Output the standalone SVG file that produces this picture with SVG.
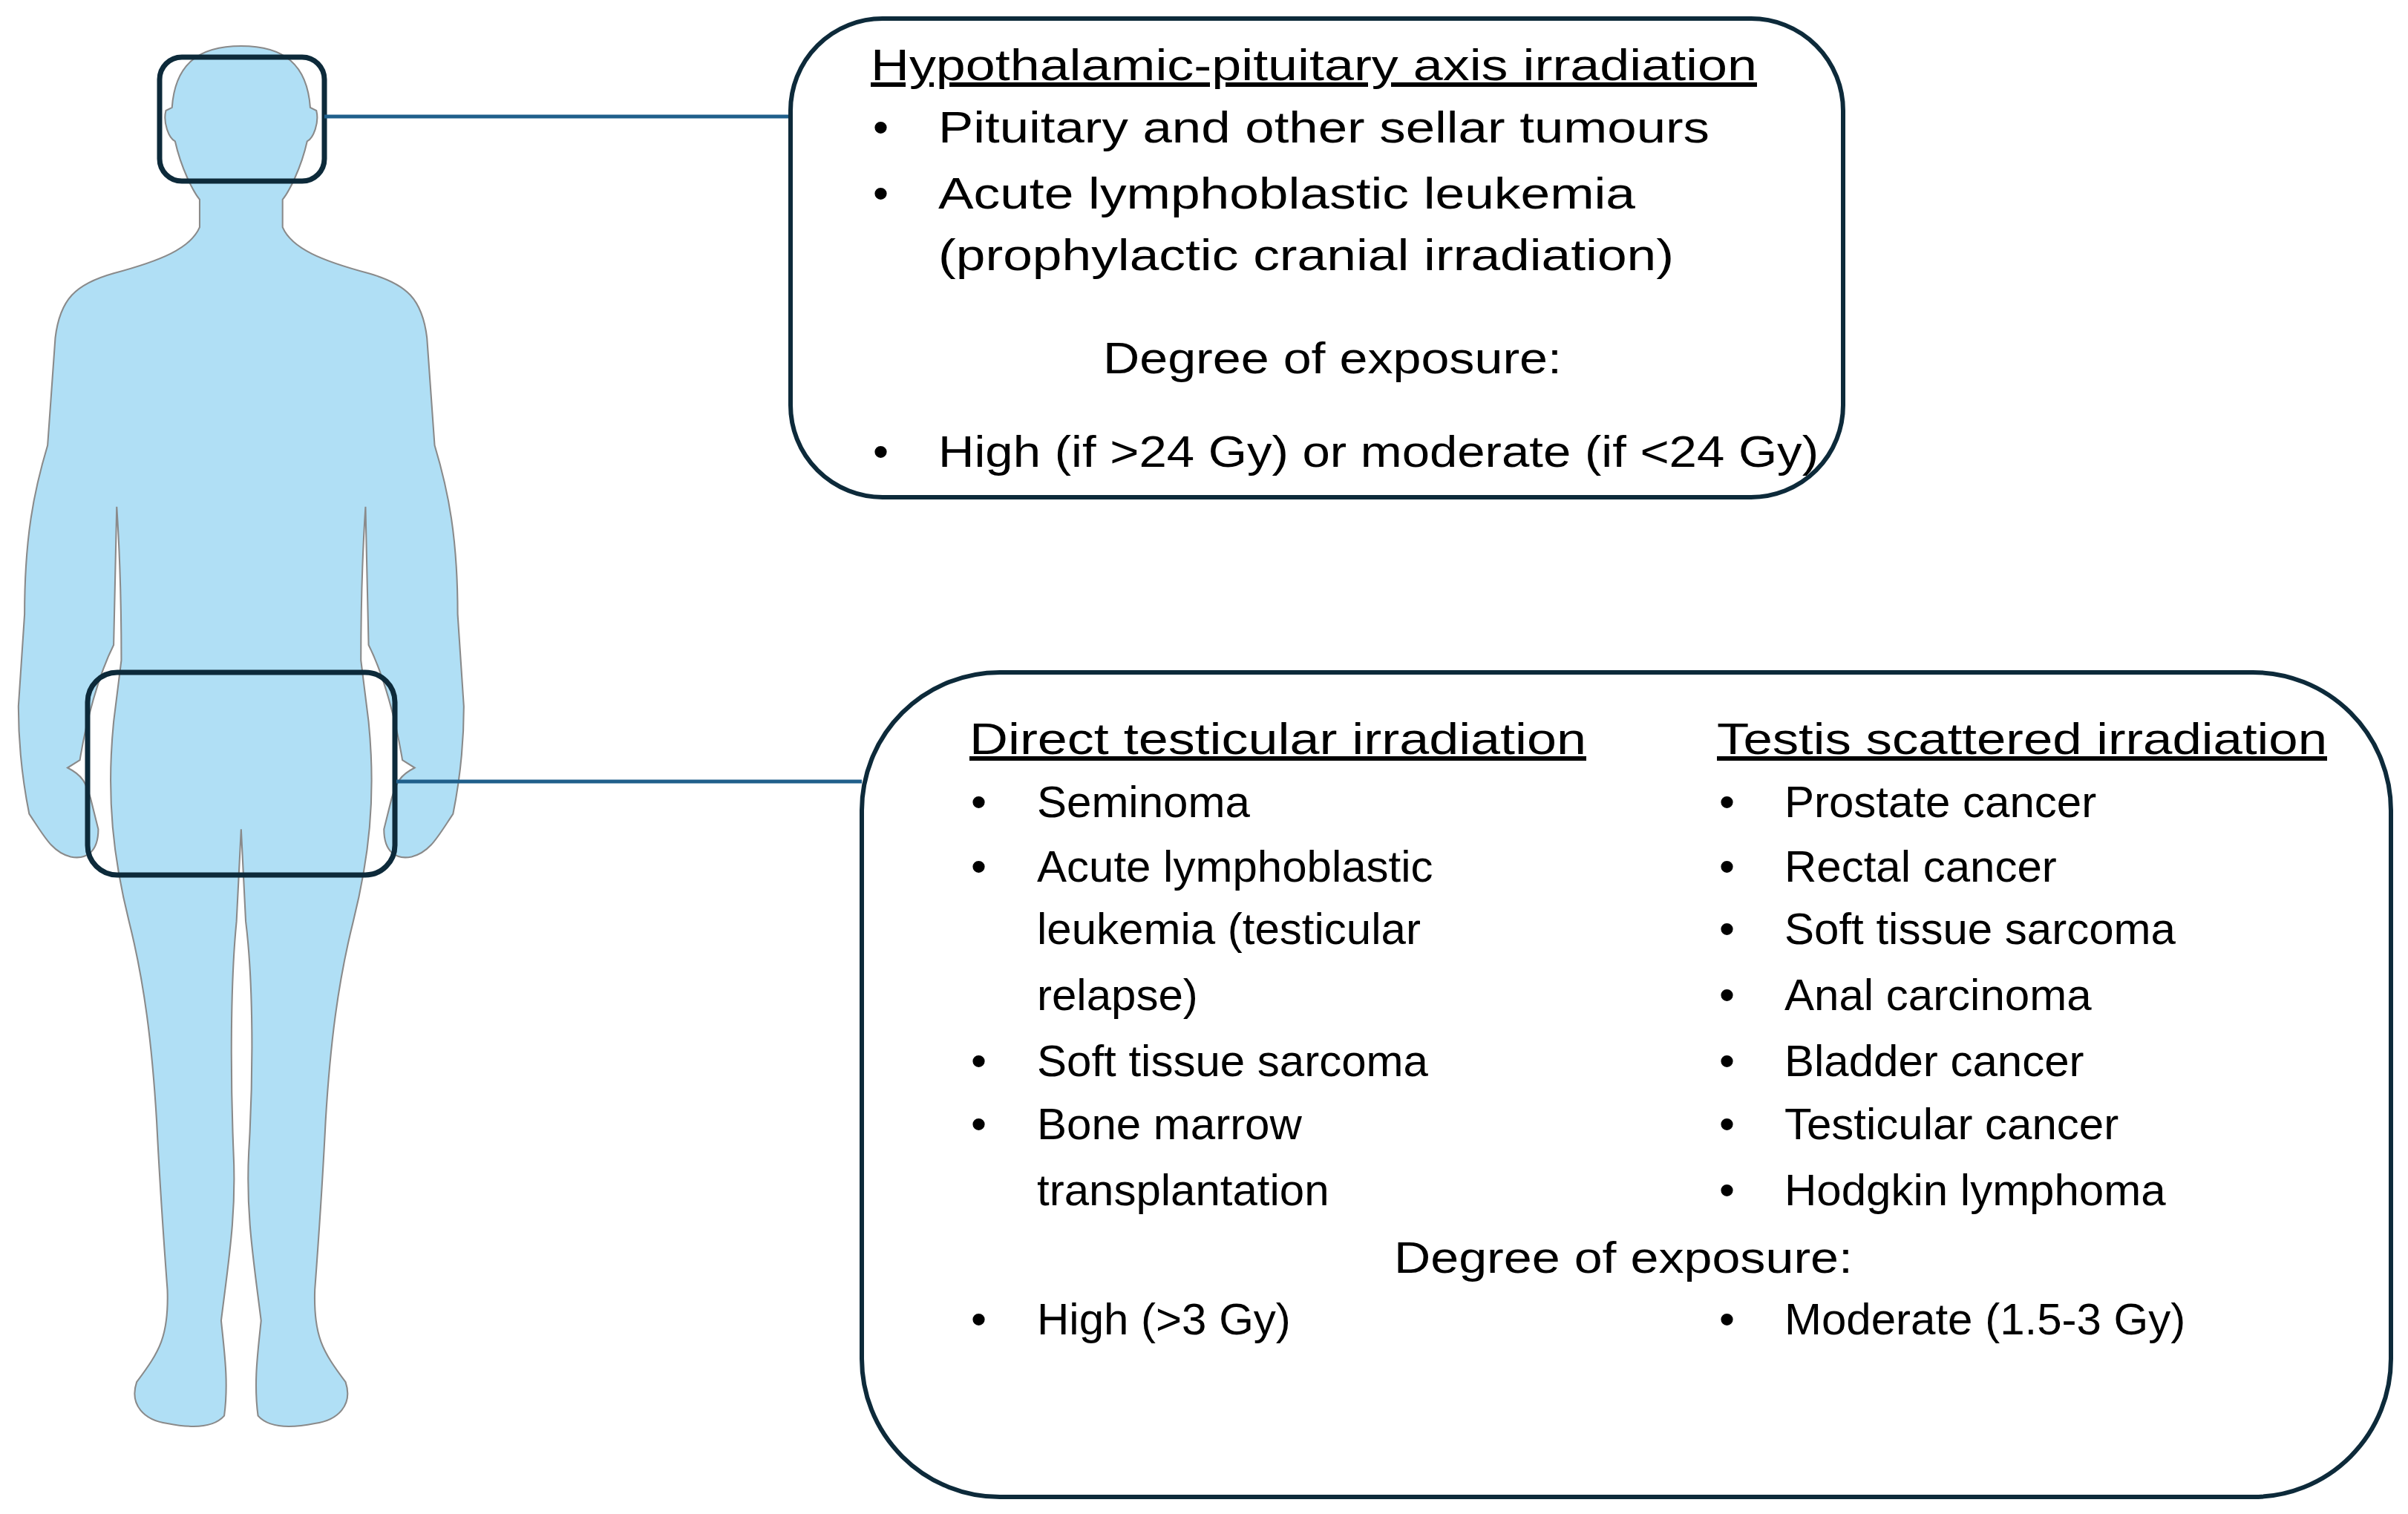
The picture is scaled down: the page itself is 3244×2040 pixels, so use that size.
<svg xmlns="http://www.w3.org/2000/svg" width="3244" height="2040" viewBox="0 0 3244 2040">
<style>
text{font-family:"Liberation Sans",Arial,sans-serif;font-size:60px;fill:#000}
.u{text-decoration:underline}
.box{fill:#fff;stroke:#0d2a3a;stroke-width:6}
.hl{fill:none;stroke:#0d2a3a;stroke-width:7}
.con{stroke:#1f5f8b;stroke-width:5;fill:none}
</style>
<rect width="3244" height="2040" fill="#fff"/>
<g id="body">
<path transform="scale(2.069)" fill="#b0dff5" stroke="#8a8a8a" stroke-width="1" d="M157,30 C185,30 200,42 202,70 L206,72 C208,80 204,90 200,92 C196,110 188,125 184,130 L184,148 C190,162 210,170 240,178 C265,185 275,195 278,220 L283,290 C292,320 298,350 298,400 L302,460 C302,490 298,515 295,530 C285,545 280,555 268,558 C258,560 250,555 250,540 L255,520 C258,510 260,505 270,500 L262,495 C258,470 250,440 240,420 L238,330 C236,360 235,400 235,430 L240,470 C245,520 240,560 230,600 C220,640 215,680 212,730 C210,770 208,800 205,840 C204,870 210,880 225,900 C230,915 220,925 205,927 C190,930 175,930 168,922 C165,900 168,880 170,860 C165,820 160,790 162,750 C165,700 165,640 160,600 L157,540 L154,600 C150,640 150,700 152,750 C154,790 149,820 144,860 C146,880 149,900 146,922 C139,930 124,930 109,927 C94,925 84,915 89,900 C104,880 110,870 109,840 C106,800 104,770 102,730 C99,680 94,640 84,600 C74,560 69,520 74,470 L79,430 C79,400 78,360 76,330 L74,420 C64,440 56,470 52,495 L44,500 C54,505 56,510 59,520 L64,540 C64,555 56,560 46,558 C34,555 29,545 19,530 C16,515 12,490 12,460 L16,400 C16,350 22,320 31,290 L36,220 C39,195 49,185 74,178 C104,170 124,162 130,148 L130,130 C126,125 118,110 114,92 C110,90 106,80 108,72 L112,70 C114,42 129,30 157,30 Z"/>
</g>
<g id="head-highlight"><rect class="hl" x="215" y="77" width="222" height="167" rx="30"/></g>
<g id="pelvis-highlight"><rect class="hl" x="118" y="906" width="414" height="273" rx="40"/></g>
<g id="connectors">
<line class="con" x1="437" y1="157" x2="1065" y2="157"/>
<line class="con" x1="534" y1="1053" x2="1161" y2="1053"/>
</g>
<g id="hpa-box">
<rect class="box" x="1065" y="25" width="1418" height="645" rx="124"/>
<text class="u" x="1173" y="108" textLength="1194" lengthAdjust="spacingAndGlyphs">Hypothalamic-pituitary axis irradiation</text>
<text x="1176" y="192">•</text><text x="1264" y="192" textLength="1039" lengthAdjust="spacingAndGlyphs">Pituitary and other sellar tumours</text>
<text x="1176" y="281">•</text><text x="1264" y="281" textLength="939" lengthAdjust="spacingAndGlyphs">Acute lymphoblastic leukemia</text>
<text x="1264" y="364" textLength="991" lengthAdjust="spacingAndGlyphs">(prophylactic cranial irradiation)</text>
<text x="1795" y="503" text-anchor="middle" textLength="618" lengthAdjust="spacingAndGlyphs">Degree of exposure:</text>
<text x="1176" y="629">•</text><text x="1264" y="629" textLength="1186" lengthAdjust="spacingAndGlyphs">High (if &gt;24 Gy) or moderate (if &lt;24 Gy)</text>
</g>
<g id="testis-box">
<rect class="box" x="1161" y="906" width="2060" height="1111" rx="186"/>
<text class="u" x="1306" y="1016" textLength="831" lengthAdjust="spacingAndGlyphs">Direct testicular irradiation</text>
<text x="1308" y="1101">•</text><text x="1397" y="1101">Seminoma</text>
<text x="1308" y="1188">•</text><text x="1397" y="1188">Acute lymphoblastic</text>
<text x="1397" y="1272">leukemia (testicular</text>
<text x="1397" y="1361">relapse)</text>
<text x="1308" y="1450">•</text><text x="1397" y="1450">Soft tissue sarcoma</text>
<text x="1308" y="1535">•</text><text x="1397" y="1535">Bone marrow</text>
<text x="1397" y="1624">transplantation</text>
<text x="1308" y="1798">•</text><text x="1397" y="1798">High (&gt;3 Gy)</text>
<text class="u" x="2313" y="1016" textLength="822" lengthAdjust="spacingAndGlyphs">Testis scattered irradiation</text>
<text x="2316" y="1101">•</text><text x="2404" y="1101">Prostate cancer</text>
<text x="2316" y="1188">•</text><text x="2404" y="1188">Rectal cancer</text>
<text x="2316" y="1272">•</text><text x="2404" y="1272">Soft tissue sarcoma</text>
<text x="2316" y="1361">•</text><text x="2404" y="1361">Anal carcinoma</text>
<text x="2316" y="1450">•</text><text x="2404" y="1450">Bladder cancer</text>
<text x="2316" y="1535">•</text><text x="2404" y="1535">Testicular cancer</text>
<text x="2316" y="1624">•</text><text x="2404" y="1624">Hodgkin lymphoma</text>
<text x="2187" y="1715" text-anchor="middle" textLength="618" lengthAdjust="spacingAndGlyphs">Degree of exposure:</text>
<text x="2316" y="1798">•</text><text x="2404" y="1798">Moderate (1.5-3 Gy)</text>
</g>
</svg>
